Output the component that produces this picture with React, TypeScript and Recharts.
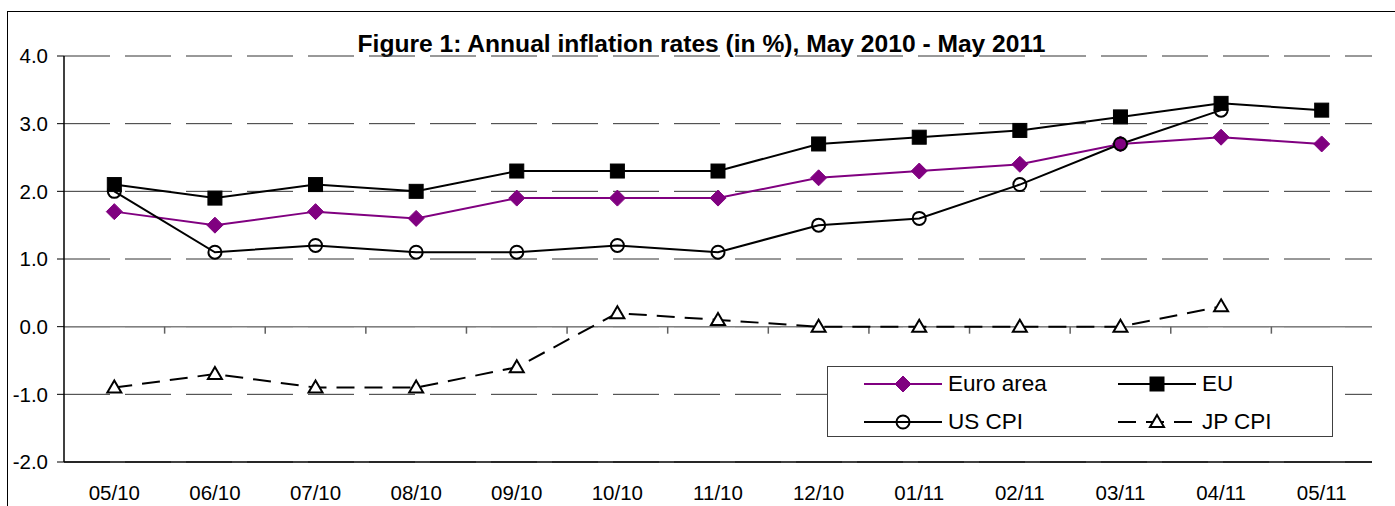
import React from 'react';
import { LineChart, Line, XAxis, YAxis, CartesianGrid, ReferenceLine, Legend } from 'recharts';

const months = ['05/10', '06/10', '07/10', '08/10', '09/10', '10/10', '11/10', '12/10', '01/11', '02/11', '03/11', '04/11', '05/11'];
const euroArea = [1.7, 1.5, 1.7, 1.6, 1.9, 1.9, 1.9, 2.2, 2.3, 2.4, 2.7, 2.8, 2.7];
const eu = [2.1, 1.9, 2.1, 2.0, 2.3, 2.3, 2.3, 2.7, 2.8, 2.9, 3.1, 3.3, 3.2];
const usCpi = [2.0, 1.1, 1.2, 1.1, 1.1, 1.2, 1.1, 1.5, 1.6, 2.1, 2.7, 3.2, null];
const jpCpi = [-0.9, -0.7, -0.9, -0.9, -0.6, 0.2, 0.1, 0.0, 0.0, 0.0, 0.0, 0.3, null];
const yTicks = [-2, -1, 0, 1, 2, 3, 4];

const data = months.map((m, i) => ({ month: m, euro: euroArea[i], eu: eu[i], us: usCpi[i], jp: jpCpi[i] }));

const PURPLE = '#800080';
const FONT = '"Liberation Sans", Arial, sans-serif';

type MarkerKind = 'diamond' | 'square' | 'circle' | 'triangle';

const Marker = ({ kind, cx, cy, color }: { kind: MarkerKind; cx: number; cy: number; color: string }) => {
  if (kind === 'diamond') {
    return <path d={`M${cx},${cy - 8}L${cx + 8},${cy}L${cx},${cy + 8}L${cx - 8},${cy}Z`} fill={color} stroke={color} strokeWidth={1} />;
  }
  if (kind === 'square') {
    return <rect x={cx - 7} y={cy - 7} width={14} height={14} fill={color} stroke={color} strokeWidth={1} />;
  }
  if (kind === 'circle') {
    return <circle cx={cx} cy={cy} r={6.5} fill="none" stroke={color} strokeWidth={2} />;
  }
  return <path d={`M${cx},${cy - 7}L${cx + 7},${cy + 5}L${cx - 7},${cy + 5}Z`} fill="#fff" stroke={color} strokeWidth={2} strokeLinejoin="miter" />;
};

const dotFor = (kind: MarkerKind, color: string) => (p: any) => {
  if (p.cx == null || p.cy == null || p.value == null) return <g key={`e-${kind}-${p.index}`} />;
  return (
    <g key={`d-${kind}-${p.index}`}>
      <Marker kind={kind} cx={p.cx} cy={p.cy} color={color} />
    </g>
  );
};

const seriesOrder = ['euro', 'eu', 'us', 'jp'];
const seriesStyle: Record<string, { kind: MarkerKind; color: string; dash?: string }> = {
  euro: { kind: 'diamond', color: PURPLE },
  eu: { kind: 'square', color: '#000' },
  us: { kind: 'circle', color: '#000' },
  jp: { kind: 'triangle', color: '#000', dash: '18 10' },
};

// zero line with the small ticks between the months
const ZeroLine = (props: any) => {
  const x1 = Number(props.x1);
  const x2 = Number(props.x2);
  const y1 = Number(props.y1);
  const step = (x2 - x1) / months.length;
  return (
    <g>
      <line x1={x1} y1={y1} x2={x2} y2={y1} stroke="#808080" strokeWidth={1.5} />
      {months.map((_, i) =>
        i > 0 ? <line key={i} x1={x1 + step * i} y1={y1} x2={x1 + step * i} y2={y1 + 7} stroke="#606060" strokeWidth={1.5} /> : null
      )}
    </g>
  );
};

const LegendBox = (props: any) => {
  const items = [...(props.payload || [])].sort(
    (a: any, b: any) => seriesOrder.indexOf(a.dataKey) - seriesOrder.indexOf(b.dataKey)
  );
  return (
    <div style={{ width: 506, height: 71, boxSizing: 'border-box', border: '1px solid #404040', background: '#fff', position: 'relative', fontFamily: FONT }}>
      {items.map((it: any, i: number) => {
        const s = seriesStyle[it.dataKey];
        const col = i % 2;
        const row = Math.floor(i / 2);
        return (
          <div key={it.dataKey} style={{ position: 'absolute', left: col === 0 ? 36 : 290, top: row === 0 ? 4 : 42, height: 26, display: 'flex', alignItems: 'center' }}>
            <svg width={80} height={26} style={{ display: 'block' }}>
              <line x1={0} y1={13} x2={78} y2={13} stroke={s.color} strokeWidth={2} strokeDasharray={s.dash} />
              <Marker kind={s.kind} cx={39} cy={13} color={s.color} />
            </svg>
            <span style={{ fontSize: 22.5, color: '#000', marginLeft: 4, whiteSpace: 'nowrap', lineHeight: '26px' }}>{it.value}</span>
          </div>
        );
      })}
    </div>
  );
};

export default function App() {
  return (
    <div
      style={{
        position: 'absolute',
        left: 7,
        top: 11,
        width: 1388,
        height: 495,
        boxSizing: 'border-box',
        borderTop: '1px solid #000',
        borderLeft: '1px solid #000',
        fontFamily: FONT,
        background: '#fff',
      }}
    >
      <div style={{ position: 'absolute', left: 0, top: 20, width: 1387, textAlign: 'center', fontWeight: 'bold', fontSize: 24.6, lineHeight: '24.6px', color: '#000', whiteSpace: 'nowrap' }}>
        Figure 1: Annual inflation rates (in %), May 2010 - May 2011
      </div>
      <div style={{ position: 'absolute', left: 0, top: 0 }}>
        <LineChart width={1387} height={494} data={data} margin={{ top: 44, right: 23, left: 0, bottom: 0 }}>
          <CartesianGrid vertical={false} stroke="#333" strokeDasharray="46 15" />
          <XAxis
            dataKey="month"
            scale="band"
            height={44}
            axisLine={{ stroke: '#000', strokeWidth: 1.5 }}
            tickLine={false}
            tickSize={6}
            tickMargin={17}
            interval={0}
            tick={{ fontSize: 20.5, fill: '#000' }}
          />
          <XAxis xAxisId="top" dataKey="month" scale="band" orientation="top" height={0} tick={false} tickLine={false} axisLine={{ stroke: '#808080' }} />
          <YAxis
            domain={[-2, 4]}
            ticks={yTicks}
            width={56}
            axisLine={{ stroke: '#000', strokeWidth: 1.5 }}
            tickLine={{ stroke: '#000' }}
            tickSize={7}
            tickMargin={9}
            tickFormatter={(v: number) => v.toFixed(1)}
            tick={{ fontSize: 20.5, fill: '#000' }}
          />
          <YAxis yAxisId="right" orientation="right" domain={[-2, 4]} width={0} tick={false} tickLine={false} axisLine={{ stroke: '#808080' }} />
          <ReferenceLine y={0} stroke="#808080" strokeWidth={1.5} shape={ZeroLine} />
          <Legend
            layout="horizontal"
            verticalAlign="middle"
            align="center"
            content={LegendBox}
            wrapperStyle={{ left: 819, top: 354, width: 506, height: 71 }}
          />
          <Line name="Euro area" dataKey="euro" stroke={PURPLE} strokeWidth={2} dot={dotFor('diamond', PURPLE)} activeDot={false} isAnimationActive={false} />
          <Line name="EU" dataKey="eu" stroke="#000" strokeWidth={2} dot={dotFor('square', '#000')} activeDot={false} isAnimationActive={false} />
          <Line name="US CPI" dataKey="us" stroke="#000" strokeWidth={2} dot={dotFor('circle', '#000')} activeDot={false} isAnimationActive={false} />
          <Line name="JP CPI" dataKey="jp" stroke="#000" strokeWidth={2} strokeDasharray="18 10" dot={dotFor('triangle', '#000')} activeDot={false} isAnimationActive={false} />
        </LineChart>
      </div>
    </div>
  );
}
